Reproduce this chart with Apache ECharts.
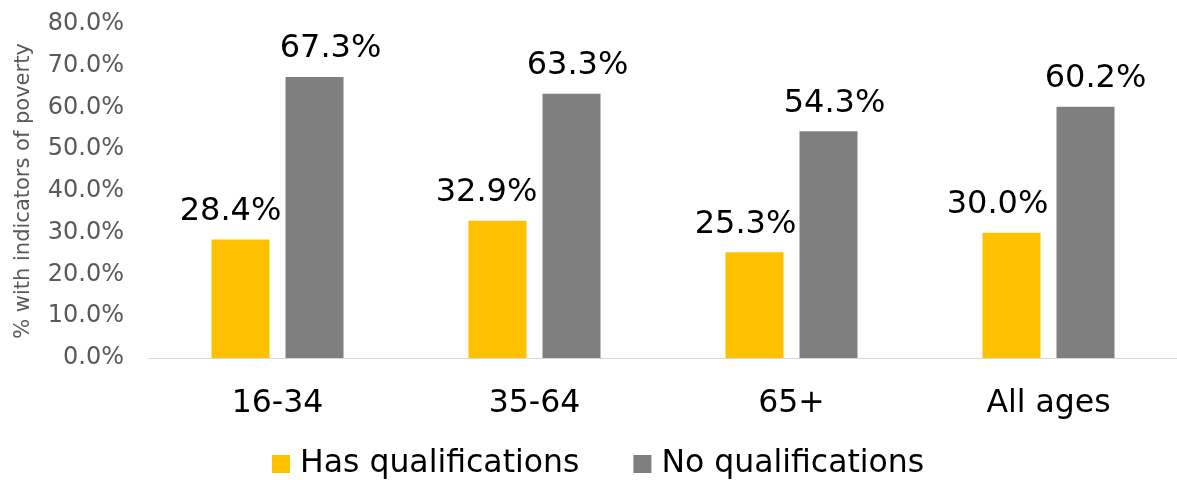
<!DOCTYPE html>
<html>
<head>
<meta charset="utf-8">
<style>
  html, body { margin: 0; padding: 0; background: #ffffff; }
  #chart { width: 1177px; height: 480px; }
</style>
<script src="https://cdn.jsdelivr.net/npm/echarts@6/dist/echarts.min.js"></script>
</head>
<body>
<div id="chart"></div>
<script>
// Age groups along the x axis
const ageGroups = ['16-34', '35-64', '65+', 'All ages'];

// Share of people with indicators of poverty (%)
const hasQualifications = [28.4, 32.9, 25.3, 30.0];
const noQualifications  = [67.3, 63.3, 54.3, 60.2];

// Y axis range and step (%)
const yMin = 0;
const yMax = 80;
const yStep = 10;

// Horizontal nudges for the value labels (px), per bar
const hasLabelShift = [-10, -11, -9, -14];
const noLabelShift  = [16, 6, 6, 10];

const FONT = 'DejaVu Sans, Verdana, sans-serif';

function withLabels(values, shifts) {
  return values.map((v, i) => ({ value: v, label: { offset: [shifts[i], 0] } }));
}

const valueLabel = {
  show: true,
  position: 'top',
  distance: 12,
  fontFamily: FONT,
  fontSize: 32,
  color: '#000000',
  formatter: p => p.value.toFixed(1) + '%'
};

const chart = echarts.init(document.getElementById('chart'), null, { renderer: 'canvas' });

chart.setOption({
  animation: false,
  backgroundColor: '#ffffff',
  grid: { left: 149, right: 0, top: 24, bottom: 122, containLabel: false },
  legend: {
    left: 272,
    top: 448,
    padding: 0,
    itemWidth: 18,
    itemHeight: 18,
    itemGap: 54,
    icon: 'rect',
    textStyle: { fontFamily: FONT, fontSize: 31.5, color: '#000000', padding: [0, 0, 0, 5] },
    data: ['Has qualifications', 'No qualifications']
  },
  xAxis: {
    type: 'category',
    data: ageGroups,
    axisLine: { show: true, lineStyle: { color: '#D9D9D9', width: 1 } },
    axisTick: { show: false },
    axisLabel: { margin: 30, fontFamily: FONT, fontSize: 31.5, color: '#000000' },
    splitLine: { show: false }
  },
  yAxis: {
    type: 'value',
    min: yMin,
    max: yMax,
    interval: yStep,
    name: '% with indicators of poverty',
    nameLocation: 'middle',
    nameGap: 115,
    nameTextStyle: { fontFamily: FONT, fontSize: 21, color: '#595959' },
    axisLine: { show: false },
    axisTick: { show: false },
    splitLine: { show: false },
    axisLabel: {
      margin: 25,
      fontFamily: FONT,
      fontSize: 24,
      color: '#595959',
      formatter: v => v.toFixed(1) + '%'
    }
  },
  series: [
    {
      name: 'Has qualifications',
      type: 'bar',
      barWidth: 58,
      barGap: '27.6%',
      itemStyle: { color: '#FFC000' },
      label: valueLabel,
      data: withLabels(hasQualifications, hasLabelShift)
    },
    {
      name: 'No qualifications',
      type: 'bar',
      barWidth: 58,
      barGap: '27.6%',
      itemStyle: { color: '#7F7F7F' },
      label: valueLabel,
      data: withLabels(noQualifications, noLabelShift)
    }
  ]
});
</script>
</body>
</html>
